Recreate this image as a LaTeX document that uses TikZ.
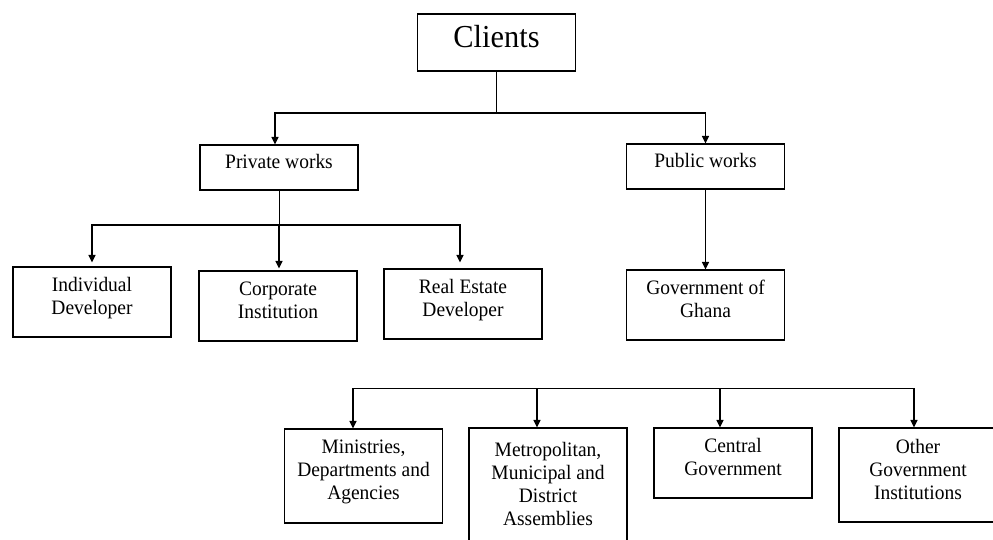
\documentclass[tikz,border=0pt]{standalone}
\usepackage{fontspec}
\setmainfont{Liberation Serif}[FakeStretch=0.95]
\usetikzlibrary{arrows.meta}

\begin{document}
\begin{tikzpicture}[
	x=1pt, y=-1pt,
	every node/.style={rectangle, draw=black, line width=1.1pt, minimum width=158pt, align=center, inner sep=2pt, text depth=12pt, font=\fontsize{20.5}{23}\selectfont},
	link/.style={line width=0.9pt},
	arrow/.style={line width=1.3pt, -{Triangle[length=7.5pt, width=7pt]}},
]
\useasboundingbox (0,0) rectangle (993,540);

% top of the chart
\node[minimum height=57pt, font=\fontsize{32}{36}\selectfont] (clients) at (496.5,42.5) {Clients};
\node[minimum height=45pt] (private) at (279,167.5) {Private works};
\node[minimum height=45pt] (public) at (705.5,166.5) {Public works};

% private side
\node[minimum height=70pt] (individual) at (92,302) {Individual \\ Developer};
\node[minimum height=70pt] (corporate) at (278,306) {Corporate \\ Institution};
\node[minimum height=70pt] (realestate) at (463,304) {Real Estate \\ Developer};

% public side
\node[minimum height=70pt] (ghana) at (705.5,305) {Government of \\ Ghana};
\node[minimum height=94pt] (ministries) at (363.5,476) {Ministries, \\ Departments and \\ Agencies};
\node[minimum height=124pt] (assemblies) at (548,490) {Metropolitan, \\ Municipal and \\ District \\ Assemblies};
\node[minimum height=70pt] (central) at (733,463) {Central \\ Government};
\node[minimum height=94pt] (others) at (918,475) {Other \\ Government \\ Institutions};

\coordinate (split) at (clients.south |- 0,113);
\coordinate (privsplit) at (private.south |- 0,225);
\coordinate (govleft) at (353,388);
\coordinate (govright) at (914,388);

\draw[link] (clients) -- (split);
\draw[arrow] (split) -| ([xshift=-4pt]private.north);
\draw[arrow] (split) -| (public);
\draw[arrow] (public) -- (ghana);

\draw[link] (private) -- (privsplit);
\draw[arrow, shorten >=4pt] (privsplit) -| (individual);
\draw[arrow, shorten >=2pt] (privsplit) -- (privsplit |- corporate.north);
\draw[arrow, shorten >=6pt] (privsplit) -| ([xshift=-3pt]realestate.north);

% government bodies
\draw[link] (govleft) -- (govright);
\draw[arrow] (govleft) -- (govleft |- ministries.north);
\draw[arrow] (537,388) -- (537,0 |- assemblies.north);
\draw[arrow] (720,388) -- (720,0 |- central.north);
\draw[arrow] (govright) -- (govright |- others.north);
\end{tikzpicture}
\end{document}
